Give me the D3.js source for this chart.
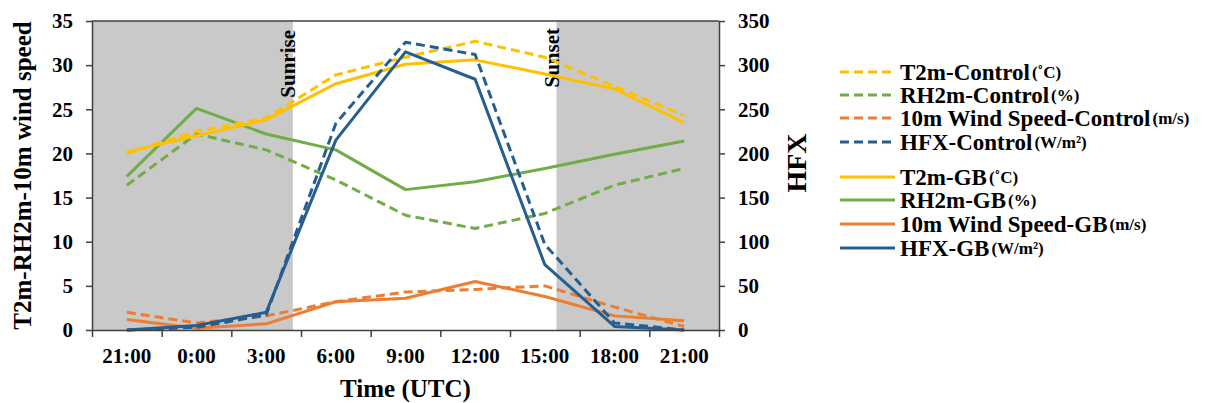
<!DOCTYPE html>
<html>
<head>
<meta charset="utf-8">
<script src="https://cdn.jsdelivr.net/npm/d3@7"></script>
<style>
  body { margin: 0; background: #fff; }
  text { font-family: "Liberation Serif", "Times New Roman", serif; font-weight: bold; fill: #000; }
</style>
</head>
<body>
<div id="container"></div>
<script>
const times = ["21:00", "0:00", "3:00", "6:00", "9:00", "12:00", "15:00", "18:00", "21:00"];

const t2mControl = [20.0, 22.5, 24.0, 28.9, 30.9, 32.7, 30.9, 27.6, 24.3];
const rh2mControl = [16.4, 22.2, 20.4, 17.0, 13.0, 11.5, 13.2, 16.4, 18.3];
const windControl = [2.0, 0.8, 1.6, 3.2, 4.3, 4.6, 5.0, 2.6, 0.4];
const hfxControl = [0, 3, 17, 234, 326, 312, 97, 8, 0];

const t2mGB = [20.2, 22.0, 23.8, 27.9, 30.1, 30.6, 29.0, 27.3, 23.5];
const rh2mGB = [17.4, 25.1, 22.2, 20.4, 15.9, 16.8, 18.3, 19.9, 21.4];
const windGB = [1.2, 0.2, 0.7, 3.2, 3.6, 5.5, 3.8, 1.6, 1.05];
const hfxGB = [0, 5, 20, 215, 315, 284, 74, 4, 0];

// sunrise / sunset as hours of the day (UTC)
const sunriseHour = 4.15;
const sunsetHour = 15.5;

const leftTicks = [0, 5, 10, 15, 20, 25, 30, 35];
const rightTicks = [0, 50, 100, 150, 200, 250, 300, 350];

const width = 1206;
const height = 403;
const margin = { top: 21, right: 487, bottom: 73, left: 92 };

const svg = d3.select("#container").append("svg")
    .attr("width", width)
    .attr("height", height);

const x = d3.scaleLinear()
    .domain([-0.5, times.length - 0.5])
    .range([margin.left, width - margin.right]);

const y = d3.scaleLinear()
    .domain([0, 35])
    .range([height - margin.bottom, margin.top]);

const y2 = d3.scaleLinear()
    .domain([0, 350])
    .range([height - margin.bottom, margin.top]);

const hourToIndex = h => (h + 3) / 3;

// night shading
const x0 = x.range()[0], x1 = x.range()[1];
svg.append("rect")
    .attr("x", x0).attr("y", margin.top)
    .attr("width", x(hourToIndex(sunriseHour)) - x0)
    .attr("height", y(0) - margin.top)
    .attr("fill", "#c9c9c9");
svg.append("rect")
    .attr("x", x(hourToIndex(sunsetHour))).attr("y", margin.top)
    .attr("width", x1 - x(hourToIndex(sunsetHour)))
    .attr("height", y(0) - margin.top)
    .attr("fill", "#c9c9c9");

svg.append("text")
    .attr("transform", `translate(${x(hourToIndex(sunriseHour)) + 2},${margin.top + 9}) rotate(-90)`)
    .attr("text-anchor", "end")
    .style("font-size", "21px")
    .text("Sunrise");
svg.append("text")
    .attr("transform", `translate(${x(hourToIndex(sunsetHour)) + 3},${margin.top + 7}) rotate(-90)`)
    .attr("text-anchor", "end")
    .style("font-size", "21px")
    .text("Sunset");

// series
const series = [
    { values: t2mControl, color: "#ffc000", dash: true, scale: y, name: "T2m-Control", unit: "(˚C)" },
    { values: rh2mControl, color: "#70ad47", dash: true, scale: y, name: "RH2m-Control", unit: "(%)" },
    { values: windControl, color: "#ed7d31", dash: true, scale: y, name: "10m Wind Speed-Control", unit: "(m/s)" },
    { values: hfxControl, color: "#255e91", dash: true, scale: y2, name: "HFX-Control", unit: "(W/m²)" },
    { values: t2mGB, color: "#ffc000", dash: false, scale: y, name: "T2m-GB", unit: "(˚C)" },
    { values: rh2mGB, color: "#70ad47", dash: false, scale: y, name: "RH2m-GB", unit: "(%)" },
    { values: windGB, color: "#ed7d31", dash: false, scale: y, name: "10m Wind Speed-GB", unit: "(m/s)" },
    { values: hfxGB, color: "#255e91", dash: false, scale: y2, name: "HFX-GB", unit: "(W/m²)" }
];

const drawOrder = [2, 6, 1, 5, 0, 4, 3, 7];
drawOrder.forEach(k => {
    const s = series[k];
    const line = d3.line()
        .x((d, i) => x(i))
        .y(d => s.scale(d));
    svg.append("path")
        .datum(s.values)
        .attr("fill", "none")
        .attr("stroke", s.color)
        .attr("stroke-width", 3)
        .attr("stroke-dasharray", s.dash ? "9,5" : null)
        .attr("stroke-linejoin", "round")
        .attr("d", line);
});

// frame
svg.append("line")
    .attr("x1", x0).attr("x2", x1)
    .attr("y1", margin.top).attr("y2", margin.top)
    .attr("stroke", "#404040").attr("stroke-width", 1.5);

const styleAxis = g => {
    g.selectAll(".domain").attr("stroke", "#404040").attr("stroke-width", 1.5);
    g.selectAll(".tick line").attr("stroke", "#404040").attr("stroke-width", 1.5);
    g.selectAll("text").style("font-size", "21px").attr("fill", "#000");
};

svg.append("g")
    .attr("transform", `translate(${margin.left},0)`)
    .call(d3.axisLeft(y).tickValues(leftTicks).tickSize(6).tickPadding(13).tickSizeOuter(0))
    .call(styleAxis);

svg.append("g")
    .attr("transform", `translate(${x1},0)`)
    .call(d3.axisRight(y2).tickValues(rightTicks).tickSize(6).tickPadding(13).tickSizeOuter(0))
    .call(styleAxis);

const xTicks = d3.range(times.length + 1).map(i => i - 0.5);
svg.append("g")
    .attr("transform", `translate(0,${y(0)})`)
    .call(d3.axisBottom(x).tickValues(xTicks).tickSize(7).tickFormat("").tickSizeOuter(0))
    .call(styleAxis);

svg.append("g")
    .selectAll("text")
    .data(times)
    .join("text")
    .attr("x", (d, i) => x(i))
    .attr("y", 363)
    .attr("text-anchor", "middle")
    .style("font-size", "21px")
    .text(d => d);

// axis titles
svg.append("text")
    .attr("x", (x0 + x1) / 2)
    .attr("y", 397)
    .attr("text-anchor", "middle")
    .style("font-size", "25px")
    .text("Time (UTC)");

svg.append("text")
    .attr("transform", `translate(31,${(margin.top + y(0)) / 2}) rotate(-90)`)
    .attr("text-anchor", "middle")
    .style("font-size", "25px")
    .text("T2m-RH2m-10m wind speed");

svg.append("text")
    .attr("transform", `translate(806,163) rotate(-90)`)
    .attr("text-anchor", "middle")
    .style("font-size", "28px")
    .text("HFX");

// legend
const legendY = [72, 95, 118, 142, 177, 200, 224, 248];
const legend = svg.append("g");
series.forEach((s, i) => {
    const g = legend.append("g").attr("transform", `translate(840,${legendY[i]})`);
    g.append("line")
        .attr("x1", 0).attr("x2", 55)
        .attr("stroke", s.color)
        .attr("stroke-width", 3)
        .attr("stroke-dasharray", s.dash ? "9,5" : null);
    const t = g.append("text")
        .attr("x", 60)
        .attr("dy", "0.35em")
        .style("font-size", "23px");
    t.append("tspan").text(s.name);
    t.append("tspan").attr("dx", 2).attr("dy", -2).style("font-size", "17px").text(s.unit);
});
</script>
</body>
</html>
